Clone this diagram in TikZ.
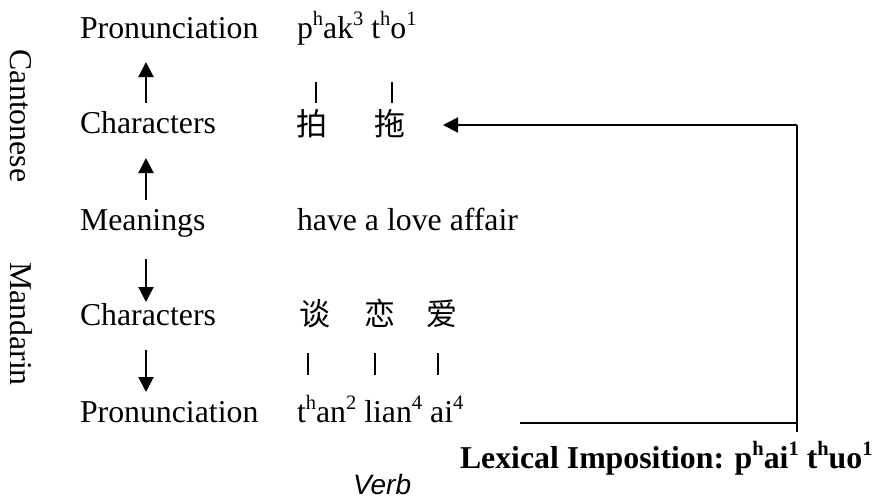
\documentclass[tikz,border=0pt]{standalone}
\usepackage{fontspec}
\setmainfont{Liberation Serif}
\newfontfamily\cjk{Noto Sans CJK SC}
\newfontfamily\sansfam{Liberation Sans}
\usetikzlibrary{arrows.meta}
\newcommand\spr[1]{\raisebox{0.38em}{\fontsize{20.5}{24}\selectfont #1}}
\begin{document}
\begin{tikzpicture}[x=1pt,y=-1pt,
  txt/.style={inner sep=0pt, outer sep=0pt, font=\fontsize{31.8}{38}\selectfont},
  lbl/.style={txt, anchor=base west},
  han/.style={inner sep=0pt, outer sep=0pt, anchor=base, font=\fontsize{31}{38}\selectfont\cjk},
  arr/.style={line width=2pt, -{Triangle[length=15pt,width=15pt]}},
  conn/.style={line width=1.8pt},
  bar/.style={line width=1.6pt}]
\useasboundingbox (0,0) rectangle (877,501);
% side labels
\node[txt, rotate=-90] (cant) at (21,116) {Cantonese};
\node[txt, rotate=-90] (mand) at (21,324) {Mandarin};
% left column
\node[lbl] (lp1) at (80,38) {Pronunciation};
\node[lbl] (lc1) at (80,133) {Characters};
\node[lbl] (lm) at (80,230) {Meanings};
\node[lbl] (lc2) at (80,325) {Characters};
\node[lbl] (lp2) at (80,422) {Pronunciation};
% right column
\node[lbl] (rp1) at (297,38) {p\spr{h}ak\spr{3} t\spr{h}o\spr{1}};
\node[han] (ca) at (312,135) {拍};
\node[han] (cb) at (390,135) {拖};
\node[lbl] (rm) at (297,230) {have a love affair};
\node[han] (ma) at (315,325) {谈};
\node[han] (mb) at (380,325) {恋};
\node[han] (mc) at (442,325) {爱};
\node[lbl] (rp2) at (297,422) {t\spr{h}an\spr{2} lian\spr{4} ai\spr{4}};
\node[lbl, font=\fontsize{31.8}{38}\selectfont\bfseries] (lex) at (460,468) {Lexical Imposition: p\spr{h}ai\spr{1} t\spr{h}uo\spr{1}};
\node[lbl, font=\fontsize{28}{32}\selectfont\sansfam\itshape] (verb) at (353,494) {Verb};
% vertical arrows
\coordinate (a1s) at (146,103); \coordinate (a1e) at (146,62);
\coordinate (a2s) at (146,200); \coordinate (a2e) at (146,158);
\coordinate (a3s) at (146,259); \coordinate (a3e) at (146,302);
\coordinate (a4s) at (146,350); \coordinate (a4e) at (146,392);
\draw[arr] (a1s) -- (a1e);
\draw[arr] (a2s) -- (a2e);
\draw[arr] (a3s) -- (a3e);
\draw[arr] (a4s) -- (a4e);
% bars
\draw[bar] (316,82) -- (316,103);
\draw[bar] (392,82) -- (392,103);
\draw[bar] (308,353) -- (308,375);
\draw[bar] (375,353) -- (375,375);
\draw[bar] (438,353) -- (438,375);
% lexical imposition connector
\coordinate (h0) at (520,423);
\coordinate (hb) at (797,423);
\coordinate (vb) at (797,432);
\coordinate (vt) at (797,125);
\coordinate (tip) at (443,125);
\draw[conn] (h0) -- (hb);
\draw[conn] (vb) -- (vt);
\draw[arr, line width=1.8pt] (vt) -- (tip);
\end{tikzpicture}
\end{document}
